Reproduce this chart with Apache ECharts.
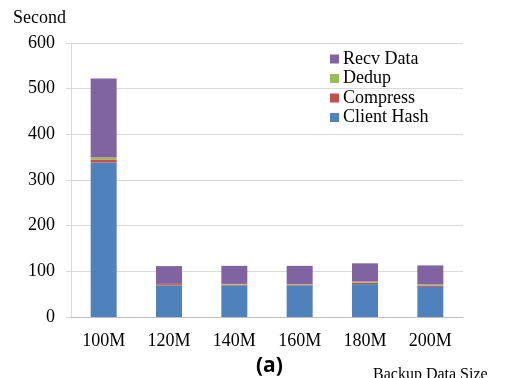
<!DOCTYPE html>
<html><head><meta charset="utf-8">
<script src="https://cdn.jsdelivr.net/npm/echarts@6/dist/echarts.min.js"></script>
<style>html,body{margin:0;padding:0;background:#fff}#c{width:513px;height:378px}</style>
</head><body><div id="c"></div>
<script>
var categories = ['100M','120M','140M','160M','180M','200M'];
var clientHash = [338, 69, 69, 69, 72, 66];
var compress   = [7, 3, 2, 1.5, 3, 3];
var dedup      = [5, 0.5, 1.5, 1.5, 2.5, 2.5];
var recvData   = [172, 39, 39.5, 40, 40, 41.5];
var yTicks = [0, 100, 200, 300, 400, 500, 600];

var serif = '"Liberation Serif", "Times New Roman", serif';
var chart = echarts.init(document.getElementById('c'));
function s(name, data, color) {
  return {name: name, type: 'bar', stack: 'a', data: data, barWidth: 26,
    itemStyle: {color: color}, emphasis: {disabled: true}};
}
chart.setOption({
  animation: false,
  grid: {left: 71, right: 50, top: 43, bottom: 61},
  legend: {
    orient: 'vertical', left: 325, top: 45,
    itemWidth: 9, itemHeight: 9, itemGap: 1.5,
    icon: 'rect',
    textStyle: {fontFamily: serif, fontSize: 18, color: '#000', lineHeight: 18, padding: [0,0,0,-1]},
    data: ['Recv Data', 'Dedup', 'Compress', 'Client Hash']
  },
  xAxis: {
    type: 'category', data: categories,
    axisLine: {lineStyle: {color: '#bfbfbf'}},
    axisTick: {length: 6, lineStyle: {color: '#bfbfbf'}},
    axisLabel: {fontFamily: serif, fontSize: 18, color: '#000', margin: 15}
  },
  yAxis: {
    type: 'value', min: yTicks[0], max: yTicks[yTicks.length-1], interval: 100,
    axisLine: {show: true, lineStyle: {color: '#d9d9d9'}},
    axisTick: {show: true, length: 5, lineStyle: {color: '#d9d9d9'}},
    splitLine: {lineStyle: {color: '#d9d9d9'}},
    axisLabel: {fontFamily: serif, fontSize: 18, color: '#000', margin: 16}
  },
  series: [
    s('Client Hash', clientHash, '#4f81bd'),
    s('Compress', compress, '#c0504d'),
    s('Dedup', dedup, '#9bbb59'),
    s('Recv Data', recvData, '#8064a2')
  ],
  graphic: [
    {type: 'text', left: 13, top: 9, style: {text: 'Second', font: '18px ' + serif, fill: '#000'}},
    {type: 'text', left: 373, top: 367, style: {text: 'Backup Data Size', font: '16px ' + serif, fill: '#000'}},
    {type: 'text', left: 256, top: 356, style: {text: '(a)', font: 'bold 21px "Open Sans", "Liberation Sans", sans-serif', fill: '#000'}}
  ]
});
</script></body></html>
